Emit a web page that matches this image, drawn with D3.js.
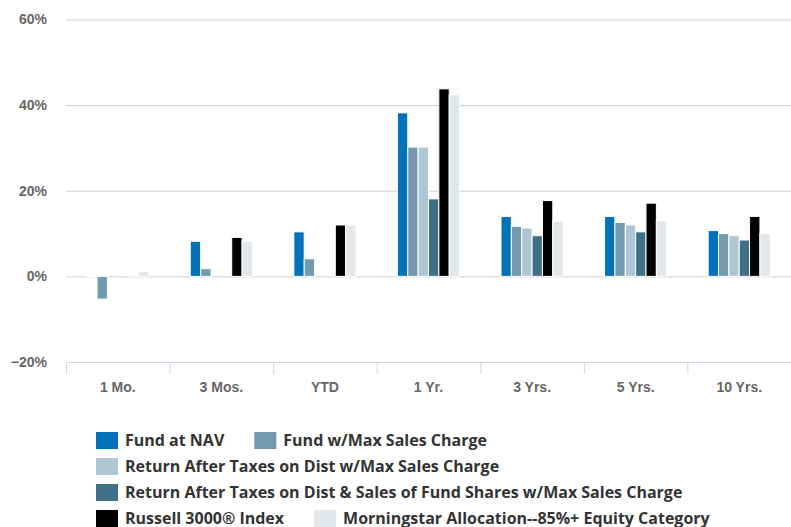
<!DOCTYPE html>
<html>
<head>
<meta charset="utf-8">
<script src="https://cdn.jsdelivr.net/npm/d3@7"></script>
<style>
  body { margin: 0; background: #fff; }
  svg { display: block; font-family: "Open Sans", sans-serif; }
</style>
</head>
<body>
<svg id="chart" width="791" height="527"></svg>
<script>
// chart data
const categories = ['1 Mo.', '3 Mos.', 'YTD', '1 Yr.', '3 Yrs.', '5 Yrs.', '10 Yrs.'];
const seriesNames = [
  'Fund at NAV',
  'Fund w/Max Sales Charge',
  'Return After Taxes on Dist w/Max Sales Charge',
  'Return After Taxes on Dist & Sales of Fund Shares w/Max Sales Charge',
  'Russell 3000® Index',
  'Morningstar Allocation--85%+ Equity Category'
];
const fundNav = [-0.2, 8.2, 10.4, 38.2, 14.0, 14.0, 10.7];
const fundMaxCharge = [-5.3, 1.8, 4.1, 30.2, 11.7, 12.6, 10.0];
const afterTaxDist = [null, null, null, 30.2, 11.3, 12.0, 9.5];
const afterTaxDistSales = [null, null, null, 18.1, 9.5, 10.4, 8.5];
const russell3000 = [0.1, 9.1, 12.0, 43.8, 17.7, 17.1, 14.0];
const morningstarCat = [1.1, 8.2, 12.0, 42.4, 12.9, 13.0, 10.0];
const yTicks = [-20, 0, 20, 40, 60];

const seriesValues = [fundNav, fundMaxCharge, afterTaxDist, afterTaxDistSales, russell3000, morningstarCat];
const colors = ['#0072bc', '#7399b0', '#afc6d4', '#3e7189', '#000000', '#e2e7eb'];

const svg = d3.select('#chart');

// scales
const x = d3.scaleBand().domain(categories).range([66, 791]);
const x1 = d3.scaleBand().domain(seriesNames).range([0, x.bandwidth()])
  .paddingInner(0).paddingOuter(2);
const y = d3.scaleLinear().domain([-20, 60]).range([362, 19.5]);

// gridlines + y labels
const yAxis = d3.axisLeft(y).tickValues(yTicks)
  .tickSize(-(791 - 66)).tickPadding(19)
  .tickFormat(d => d3.format('d')(d) + '%');

const gy = svg.append('g').attr('transform', 'translate(66,0)').call(yAxis);
gy.select('.domain').remove();
gy.selectAll('.tick line').attr('stroke', '#d0d0d0');
gy.selectAll('.tick text')
  .attr('fill', '#666').attr('font-size', 14).attr('font-weight', 700);
gy.selectAll('.tick').filter(d => d === -20).select('line').remove();

// bars
const groups = svg.append('g').selectAll('g')
  .data(categories)
  .join('g')
  .attr('transform', d => `translate(${x(d)},0)`);

groups.selectAll('rect')
  .data((c, i) => seriesNames.map((s, k) => ({ s, k, v: seriesValues[k][i] })).filter(d => d.v != null))
  .join('rect')
  .attr('x', d => x1(d.s))
  .attr('width', x1.bandwidth())
  .attr('y', d => Math.min(y(d.v), y(0)))
  .attr('height', d => Math.abs(y(d.v) - y(0)))
  .attr('fill', d => colors[d.k])
  .attr('stroke', '#fff')
  .attr('stroke-width', 1);

// x axis
const xAxis = d3.axisBottom(x).tickSize(0).tickPadding(20);
const gx = svg.append('g').attr('transform', 'translate(0,362)').call(xAxis);
gx.select('.domain').attr('stroke', '#ccd6eb');
gx.selectAll('.tick text')
  .attr('fill', '#666').attr('font-size', 14).attr('font-weight', 700);

// tick marks at category boundaries
svg.append('g').selectAll('line')
  .data(categories)
  .join('line')
  .attr('x1', d => x(d) + 0.5).attr('x2', d => x(d) + 0.5)
  .attr('y1', 362).attr('y2', 374)
  .attr('stroke', '#ccd6eb');

// legend, simple flow layout
const legend = svg.append('g');
let lx = 96, row = 0;
const legendLeft = 96, legendMax = 756, rowStart = 440.5, rowGap = 26;
seriesNames.forEach((name, k) => {
  const item = legend.append('g');
  item.append('rect')
    .attr('width', 22).attr('height', 17)
    .attr('fill', colors[k]);
  const t = item.append('text')
    .attr('x', 29).attr('y', 14)
    .attr('fill', '#333').attr('font-size', 16).attr('font-weight', 700)
    .text(name);
  const w = 29 + t.node().getComputedTextLength();
  if (lx > legendLeft && lx + w > legendMax) {
    lx = legendLeft;
    row++;
  }
  item.attr('transform', `translate(${lx},${rowStart + row * rowGap - 8.5})`);
  lx += w + 30;
});
</script>
</body>
</html>
